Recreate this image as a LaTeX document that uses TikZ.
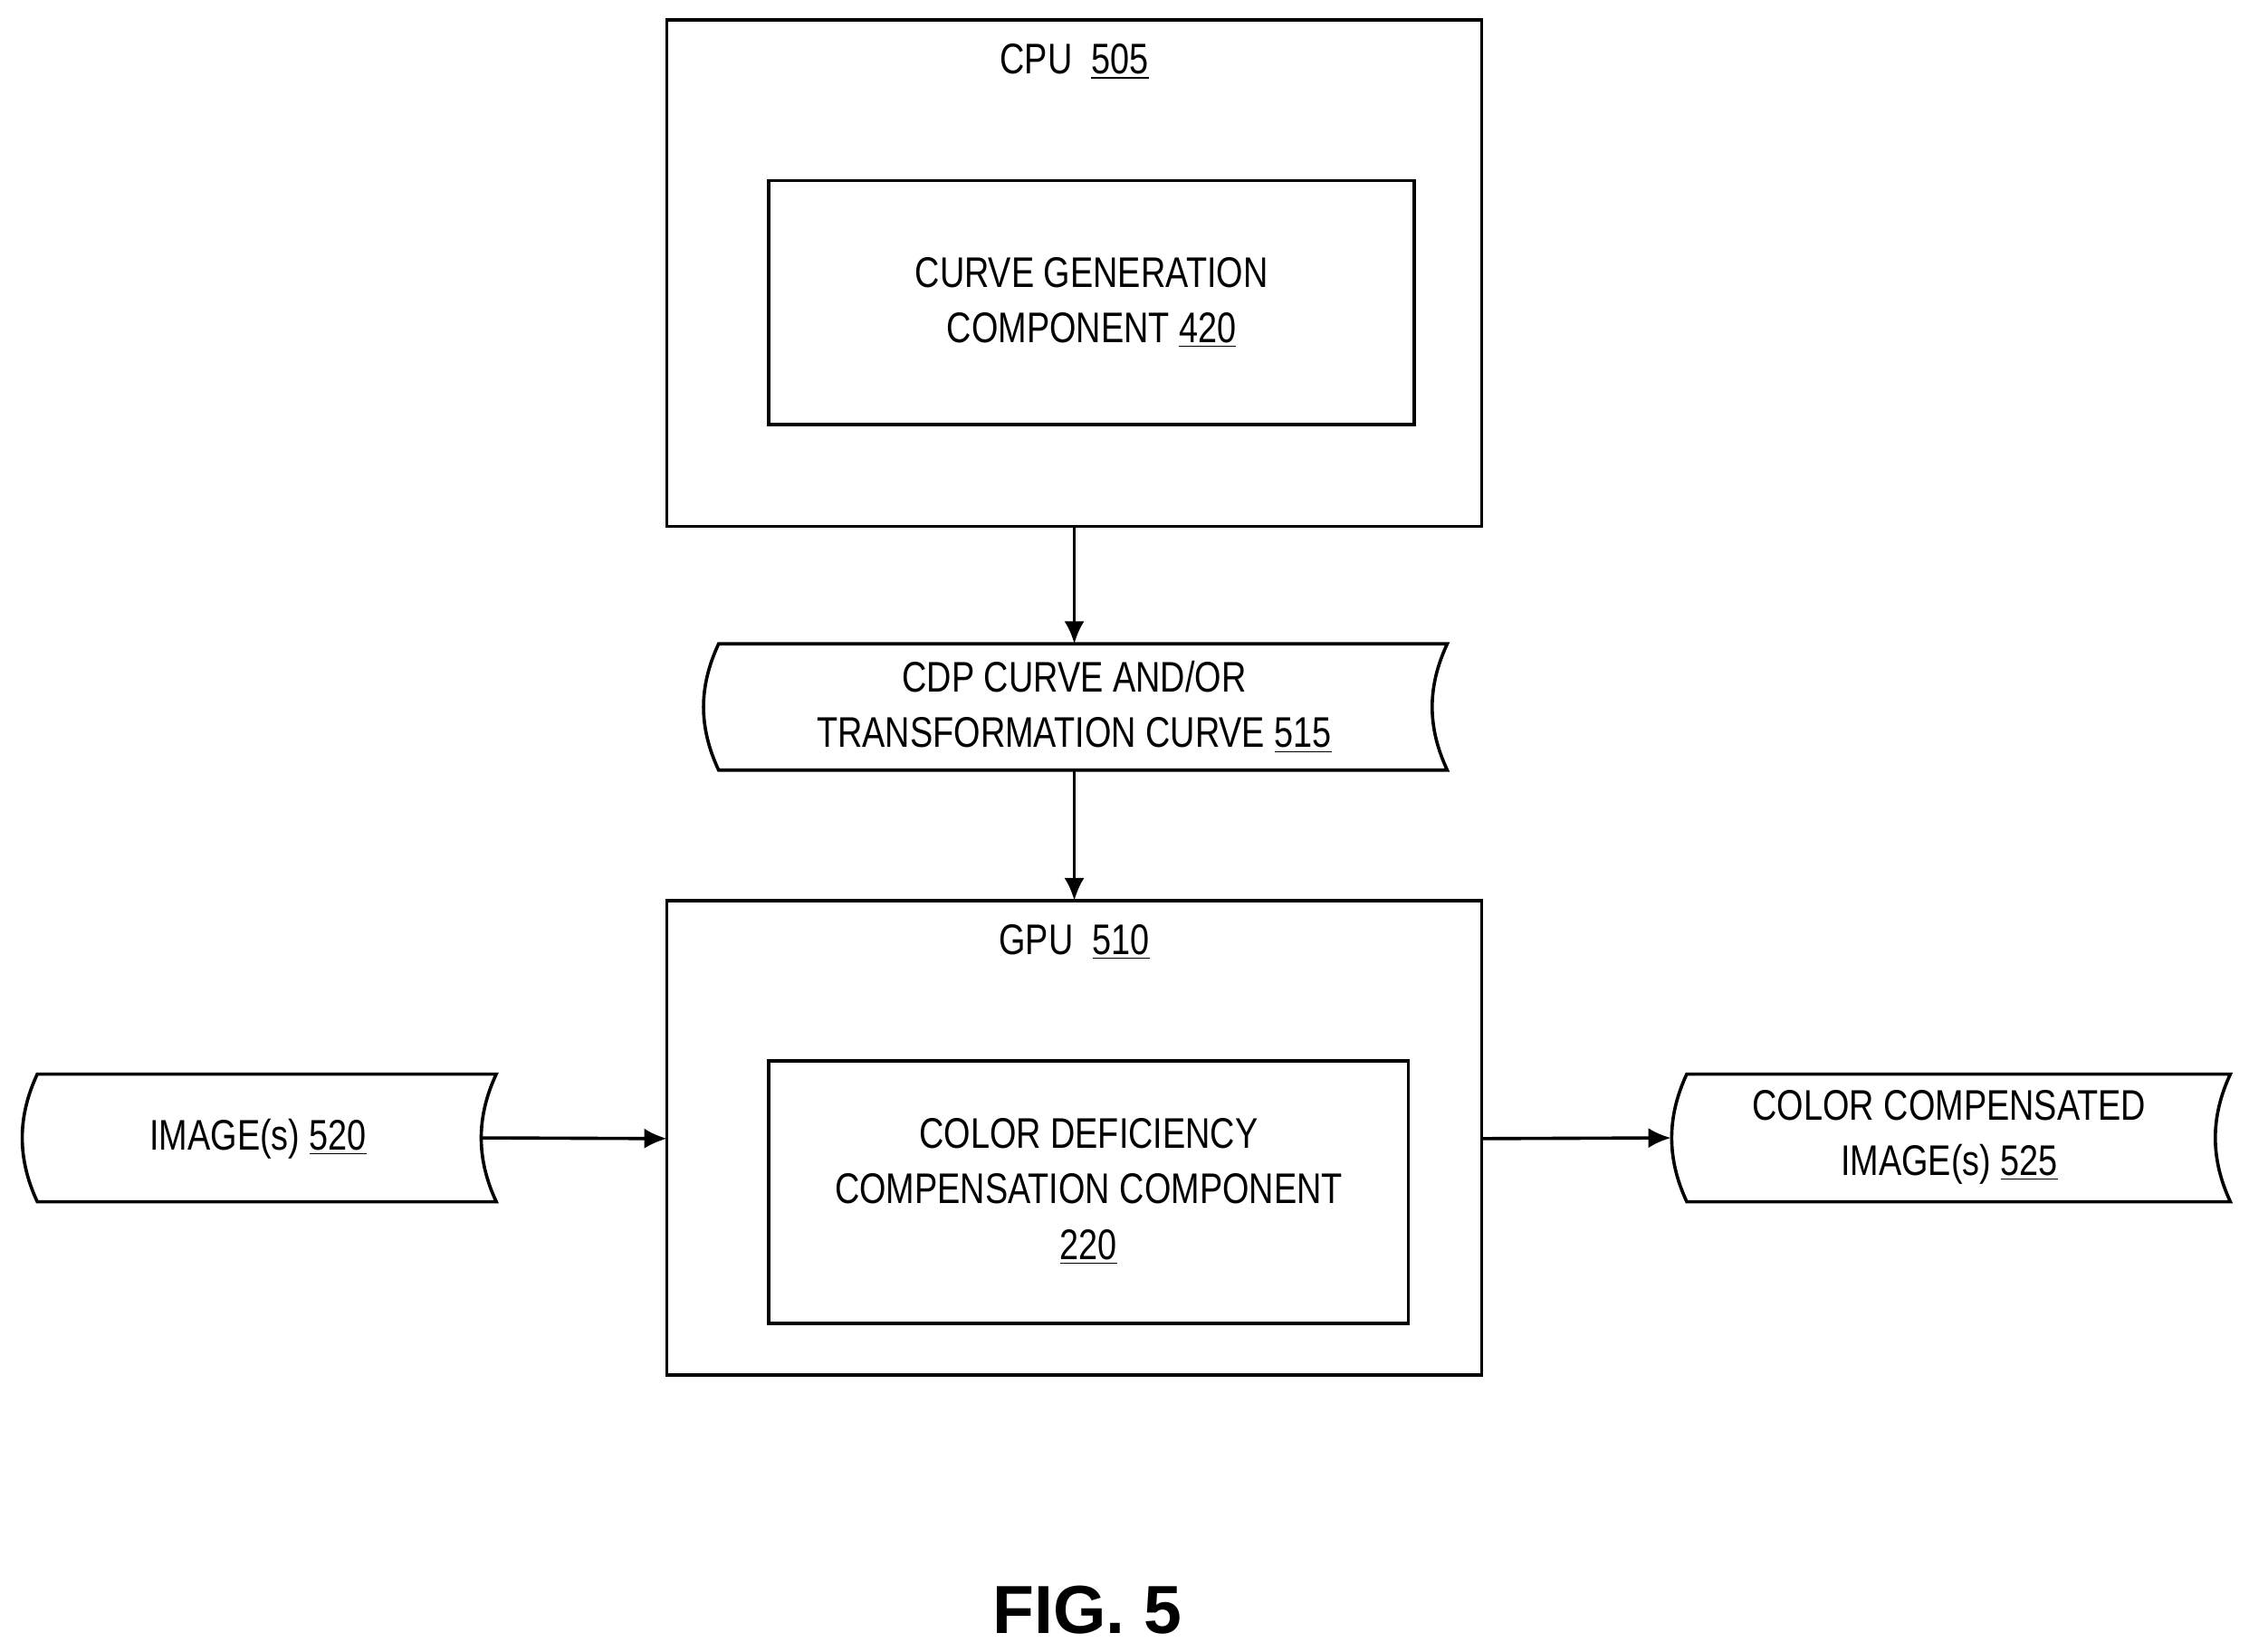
\documentclass[tikz,border=0pt]{standalone}
\usepackage{fontspec}
\setmainfont{Liberation Sans}[FakeStretch=0.8]
\begin{document}
\begin{tikzpicture}[x=0.02cm,y=-0.02cm,
  box/.style={draw,line width=1.3pt},
  lbl/.style={font=\fontsize{17pt}{22pt}\selectfont,align=center},
  arr/.style={->,>={Latex[length=9pt,width=8pt]},line width=1.3pt}]
\usetikzlibrary{arrows.meta}
\useasboundingbox (0,0) rectangle (1568,1152);
\newcommand{\tapeshape}[5]{% name x0 y0 x1 y1
  \draw[box] (#2+12,#3) -- (#4,#3) .. controls (#4-14,#3+30) and (#4-14,#5-30) .. (#4,#5)
    -- (#2+12,#5) .. controls (#2-2,#5-30) and (#2-2,#3+30) .. (#2+12,#3) -- cycle;
  \coordinate (#1) at ({(#2+#4)/2},{(#3+#5)/2});
  \coordinate (#1-w) at (#2+1,{(#3+#5)/2});
  \coordinate (#1-e) at (#4-10,{(#3+#5)/2});
  \coordinate (#1-n) at ({(#2+#4)/2},#3);
  \coordinate (#1-s) at ({(#2+#4)/2},#5);}
\draw[box] (465,14) rectangle (1033,367);
\coordinate (cpu-s) at (749,367);
\node[lbl] (cpul) at (749,43) {CPU\ \ \underline{505}};
\draw[box] (536,126) rectangle (986,296);
\node[lbl] (curve) at (761,211) {CURVE GENERATION\\COMPONENT \underline{420}};
\tapeshape{t515}{489}{449}{1009}{537}
\node[lbl] (t515l) at (749,493) {CDP CURVE AND/OR\\TRANSFORMATION CURVE \underline{515}};
\draw[box] (465,628) rectangle (1033,959);
\coordinate (gpu-n) at (749,628);
\coordinate (gpu-w) at (465,794);
\coordinate (gpu-e) at (1033,794);
\node[lbl] (gpul) at (749,657) {GPU\ \ \underline{510}};
\draw[box] (536,740) rectangle (982,923);
\node[lbl] (cdc) at (759,831) {COLOR DEFICIENCY\\COMPENSATION COMPONENT\\\underline{220}};
\tapeshape{t520}{14}{749}{346}{838}
\node[lbl] (t520l) at (180,794) {IMAGE(s) \underline{520}};
\tapeshape{t525}{1164}{749}{1555}{838}
\node[lbl] (t525l) at (1359,793) {COLOR COMPENSATED\\IMAGE(s) \underline{525}};
\draw[arr] (cpu-s) -- (t515-n);
\draw[arr] (t515-s) -- (gpu-n);
\draw[arr] (t520-e) -- (gpu-w);
\draw[arr] (gpu-e) -- (t525-w);
\node[font=\fontspec{Liberation Sans}\bfseries\fontsize{27pt}{32pt}\selectfont] (fig) at (758,1123) {FIG. 5};
\end{tikzpicture}
\end{document}
